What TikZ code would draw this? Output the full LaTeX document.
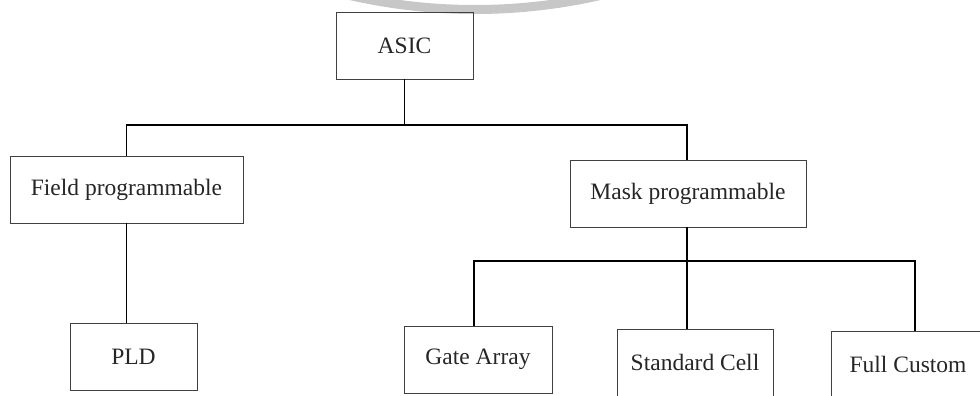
\documentclass[tikz,border=0pt]{standalone}
\usepackage{fontspec}
\setmainfont{Liberation Serif}
\begin{document}
\begin{tikzpicture}[x=1pt,y=-1pt,
  box/.style={draw=black!75, line width=0.9pt, rectangle, inner sep=0pt,
    minimum height=67pt, text=black!85, font=\fontsize{23.5}{28}\selectfont},
  conn/.style={draw=black, line width=1.7pt}]
\useasboundingbox (0,0) rectangle (980,396);
% watermark arc at the top
\begin{scope}
  \clip (0,0) rectangle (980,396);
  \draw[black!22, line width=9pt] (475,-551) circle[radius=560.5pt];
\end{scope}
% nodes
\node[box, minimum width=137pt] (asic) at (404.5,45.5) {ASIC};
\node[box, minimum width=233pt] (field) at (126.5,189.5) {Field programmable};
\node[box, minimum width=236pt] (mask) at (688,193.5) {Mask programmable};
\node[box, minimum width=127pt] (pld) at (133.5,356.5) {PLD};
\node[box, minimum width=148pt] (gate) at (478,359.5) {Gate Array};
\node[box, minimum width=156pt] (std) at (695,362.5) {Standard Cell};
\node[box, minimum width=154pt] (full) at (908,364.5) {Full Custom};
% junctions
\coordinate (j1) at (404,125);
\coordinate (j2) at (687,261);
% connectors
\draw[conn] (asic.south) -- (asic.south |- j1);
\draw[conn] (field.north) |- (j1) -| ([xshift=-1pt]mask.north);
\draw[conn] (field.south) -- (field.south |- pld.north);
\draw[conn] ([xshift=-1pt]mask.south) -- ([xshift=-1pt]mask.south |- j2);
\draw[conn] ([xshift=-4pt]gate.north) |- (j2) -| ([xshift=7pt]full.north);
\draw[conn] (j2) -- (j2 |- std.north);
\end{tikzpicture}
\end{document}
